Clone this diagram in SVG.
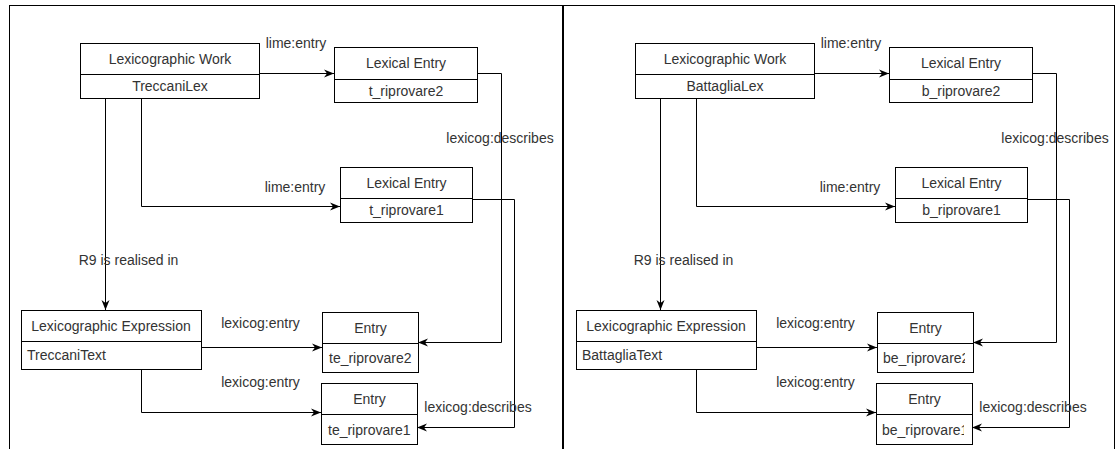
<svg xmlns="http://www.w3.org/2000/svg" width="1119" height="449" viewBox="0 0 1119 449">
<style>
.box{fill:#fff;stroke:#000;stroke-width:1}
.div{stroke:#000;stroke-width:1}
.t{font-family:"Liberation Sans",Arial,sans-serif;font-size:14px;fill:#333}
.c{text-anchor:middle}
.e{fill:none;stroke:#000;stroke-width:1}
.frame{fill:none;stroke:#000;stroke-width:1}
</style>
<defs>
<marker id="arr" viewBox="-11 -5 12 10" refX="0" refY="0" markerWidth="12" markerHeight="10" markerUnits="userSpaceOnUse" orient="auto">
<path d="M0,0 L-10,-4 L-7,0 L-10,4 Z" fill="#000"/>
</marker>
<clipPath id="clipE2"><rect x="322" y="343" width="88" height="29"/></clipPath>
<clipPath id="clipE1"><rect x="321" y="414" width="88" height="30"/></clipPath>
</defs>
<rect fill="#fff" x="0" y="0" width="1119" height="449"/>
<g id="frames">
<rect class="frame" x="9.5" y="5.5" width="553" height="460"/>
<rect class="frame" x="563.5" y="5.5" width="551" height="460"/>
</g>

<g id="left">
<g id="connectors-left">
<path class="e" d="M259.5,73.5 H334" marker-end="url(#arr)"/>
<path class="e" d="M141.5,98 V206.5 H340" marker-end="url(#arr)"/>
<path class="e" d="M105.5,98 V310" marker-end="url(#arr)"/>
<path class="e" d="M201,347.5 H322" marker-end="url(#arr)"/>
<path class="e" d="M141.5,369 V412.5 H321" marker-end="url(#arr)"/>
<path class="e" d="M477,73.5 H501.5 V342.5 H418" marker-end="url(#arr)"/>
<path class="e" d="M472,199.5 H514.5 V427.5 H417" marker-end="url(#arr)"/>
<text class="t c" x="296" y="48">lime:entry</text>
<text class="t c" x="295" y="192">lime:entry</text>
<text class="t c" x="128.5" y="265">R9 is realised in</text>
<text class="t c" x="260.5" y="328">lexicog:entry</text>
<text class="t c" x="260.5" y="387">lexicog:entry</text>
<text class="t c" x="500" y="143">lexicog:describes</text>
<text class="t c" x="478" y="412">lexicog:describes</text>
</g>
<g id="work-treccani">
<rect class="box" x="80.5" y="43.5" width="179" height="55"/>
<line class="div" x1="80.5" y1="74.5" x2="259.5" y2="74.5"/>
<text class="t c" x="170" y="63.5">Lexicographic Work</text>
<text class="t c" x="170" y="91">TreccaniLex</text>
</g>
<g id="le-t2">
<rect class="box" x="334.5" y="47.5" width="143" height="55"/>
<line class="div" x1="334.5" y1="79.5" x2="477.5" y2="79.5"/>
<text class="t c" x="406" y="68">Lexical Entry</text>
<text class="t c" x="406" y="95.5">t_riprovare2</text>
</g>
<g id="le-t1">
<rect class="box" x="340.5" y="167.5" width="132" height="55"/>
<line class="div" x1="340.5" y1="198.5" x2="472.5" y2="198.5"/>
<text class="t c" x="406.5" y="187.5">Lexical Entry</text>
<text class="t c" x="406.5" y="215">t_riprovare1</text>
</g>
<g id="expr-treccani">
<rect class="box" x="21.5" y="310.5" width="180" height="59"/>
<line class="div" x1="21.5" y1="341.5" x2="201.5" y2="341.5"/>
<text class="t c" x="111" y="330.5">Lexicographic Expression</text>
<text class="t" x="27" y="360">TreccaniText</text>
</g>
<g id="entry-te2">
<rect class="box" x="322.5" y="312.5" width="96" height="60"/>
<line class="div" x1="322.5" y1="343.5" x2="418.5" y2="343.5"/>
<text class="t c" x="370.5" y="332.5">Entry</text>
<text class="t" x="329" y="362.5">te_riprovare2</text>
</g>
<g id="entry-te1">
<rect class="box" x="321.5" y="383.5" width="96" height="61"/>
<line class="div" x1="321.5" y1="414.5" x2="417.5" y2="414.5"/>
<text class="t c" x="369.5" y="403.5">Entry</text>
<text class="t" x="328" y="434.5">te_riprovare1</text>
</g>
</g>

<g id="right" transform="translate(555,0)">
<g id="connectors-right">
<path class="e" d="M259.5,73.5 H334" marker-end="url(#arr)"/>
<path class="e" d="M141.5,98 V206.5 H340" marker-end="url(#arr)"/>
<path class="e" d="M105.5,98 V310" marker-end="url(#arr)"/>
<path class="e" d="M201,347.5 H322" marker-end="url(#arr)"/>
<path class="e" d="M141.5,369 V412.5 H321" marker-end="url(#arr)"/>
<path class="e" d="M477,73.5 H501.5 V342.5 H418" marker-end="url(#arr)"/>
<path class="e" d="M472,199.5 H514.5 V427.5 H417" marker-end="url(#arr)"/>
<text class="t c" x="296" y="48">lime:entry</text>
<text class="t c" x="295" y="192">lime:entry</text>
<text class="t c" x="128.5" y="265">R9 is realised in</text>
<text class="t c" x="260.5" y="328">lexicog:entry</text>
<text class="t c" x="260.5" y="387">lexicog:entry</text>
<text class="t c" x="500" y="143">lexicog:describes</text>
<text class="t c" x="478" y="412">lexicog:describes</text>
</g>
<g id="work-battaglia">
<rect class="box" x="80.5" y="43.5" width="179" height="55"/>
<line class="div" x1="80.5" y1="74.5" x2="259.5" y2="74.5"/>
<text class="t c" x="170" y="63.5">Lexicographic Work</text>
<text class="t c" x="170" y="91">BattagliaLex</text>
</g>
<g id="le-b2">
<rect class="box" x="334.5" y="47.5" width="143" height="55"/>
<line class="div" x1="334.5" y1="79.5" x2="477.5" y2="79.5"/>
<text class="t c" x="406" y="68">Lexical Entry</text>
<text class="t c" x="406" y="95.5">b_riprovare2</text>
</g>
<g id="le-b1">
<rect class="box" x="340.5" y="167.5" width="132" height="55"/>
<line class="div" x1="340.5" y1="198.5" x2="472.5" y2="198.5"/>
<text class="t c" x="406.5" y="187.5">Lexical Entry</text>
<text class="t c" x="406.5" y="215">b_riprovare1</text>
</g>
<g id="expr-battaglia">
<rect class="box" x="21.5" y="310.5" width="180" height="59"/>
<line class="div" x1="21.5" y1="341.5" x2="201.5" y2="341.5"/>
<text class="t c" x="111" y="330.5">Lexicographic Expression</text>
<text class="t" x="27" y="360">BattagliaText</text>
</g>
<g id="entry-be2">
<rect class="box" x="322.5" y="312.5" width="96" height="60"/>
<line class="div" x1="322.5" y1="343.5" x2="418.5" y2="343.5"/>
<text class="t c" x="370.5" y="332.5">Entry</text>
<text class="t" x="328" y="362.5" clip-path="url(#clipE2)">be_riprovare2</text>
</g>
<g id="entry-be1">
<rect class="box" x="321.5" y="383.5" width="96" height="61"/>
<line class="div" x1="321.5" y1="414.5" x2="417.5" y2="414.5"/>
<text class="t c" x="369.5" y="403.5">Entry</text>
<text class="t" x="327" y="434.5" clip-path="url(#clipE1)">be_riprovare1</text>
</g>
</g>
</svg>
